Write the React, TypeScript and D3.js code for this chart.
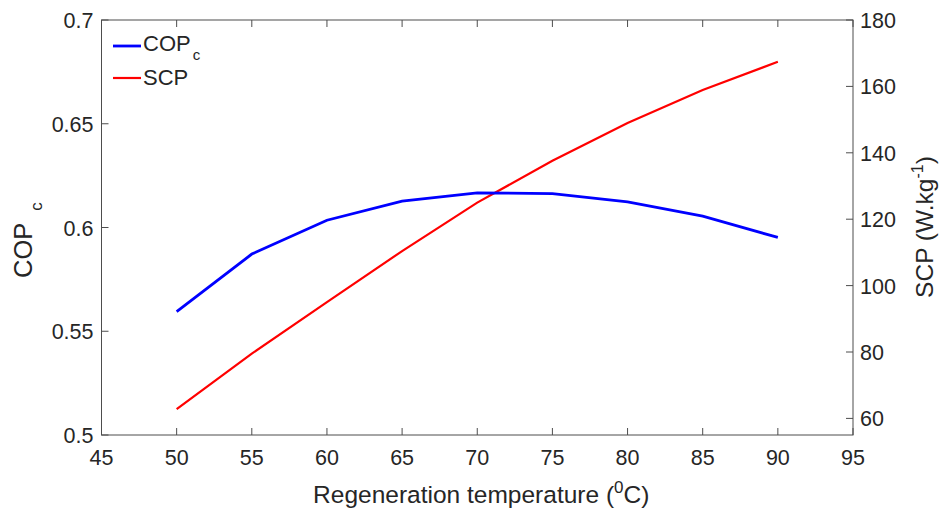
import React from "react";
import * as d3 from "d3";

const temps = [50, 55, 60, 65, 70, 75, 80, 85, 90];
const copValues = [0.5595, 0.5872, 0.6035, 0.6127, 0.6167, 0.6163, 0.6123, 0.6055, 0.5952];
const scpValues = [62.8, 79.5, 95.0, 110.4, 125.0, 137.6, 149.0, 158.9, 167.4];
const xTicks = [45, 50, 55, 60, 65, 70, 75, 80, 85, 90, 95];
const yLeftTicks = [0.5, 0.55, 0.6, 0.65, 0.7];
const yRightTicks = [60, 80, 100, 120, 140, 160, 180];

const W = 941, H = 510;
const L = 101.5, R = 853, T = 20, B = 435;
const FONT = "'Liberation Sans', Arial, sans-serif";
const AX = "#4d4d4d";
const TXT = "#262626";
const TICK_FS = 21.5;
const LABEL_FS = 24.5;

export default function App() {
  const x = d3.scaleLinear().domain([45, 95]).range([L, R]);
  const yL = d3.scaleLinear().domain([0.5, 0.7]).range([B, T]);
  const yR = d3.scaleLinear().domain([55, 180]).range([B, T]);
  const copLine = d3.line<number>().x((_, i) => x(temps[i])).y((d) => yL(d));
  const scpLine = d3.line<number>().x((_, i) => x(temps[i])).y((d) => yR(d));
  const tl = 7;
  return (
    <svg width={W} height={H} style={{ position: "absolute", left: 0, top: 0, background: "#fff" }} fontFamily={FONT}>
      <rect x={0} y={0} width={W} height={H} fill="#fff" />
      <rect x={L} y={T} width={R - L} height={B - T} fill="none" stroke={AX} strokeWidth={1} />
      {xTicks.map((t) => (
        <g key={"x" + t}>
          <line x1={x(t)} x2={x(t)} y1={B} y2={B - tl} stroke={AX} />
          <line x1={x(t)} x2={x(t)} y1={T} y2={T + tl} stroke={AX} />
          <text x={x(t)} y={B + 30} textAnchor="middle" fontSize={TICK_FS} fill={TXT}>{t}</text>
        </g>
      ))}
      {yLeftTicks.map((t) => (
        <g key={"l" + t}>
          <line x1={L} x2={L + tl} y1={yL(t)} y2={yL(t)} stroke={AX} />
          <text x={L - 8} y={yL(t) + 8} textAnchor="end" fontSize={TICK_FS} fill={TXT}>{String(t)}</text>
        </g>
      ))}
      {yRightTicks.map((t) => (
        <g key={"r" + t}>
          <line x1={R} x2={R - tl} y1={yR(t)} y2={yR(t)} stroke={AX} />
          <text x={R + 7} y={yR(t) + 8} textAnchor="start" fontSize={TICK_FS} fill={TXT}>{t}</text>
        </g>
      ))}
      <path d={scpLine(scpValues) || ""} fill="none" stroke="#ff0000" strokeWidth={2.2} />
      <path d={copLine(copValues) || ""} fill="none" stroke="#0000ff" strokeWidth={2.8} />
      {/* legend */}
      <line x1={113} x2={141} y1={46} y2={46} stroke="#0000ff" strokeWidth={2.8} />
      <text x={143} y={51} fontSize={22} fill={TXT}>COP<tspan fontSize={15} dy={9} dx={2}>c</tspan></text>
      <line x1={113} x2={141} y1={78} y2={78} stroke="#ff0000" strokeWidth={2.2} />
      <text x={143} y={85} fontSize={22} fill={TXT}>SCP</text>
      {/* axis labels */}
      <text x={(L + R) / 2 + 4} y={503} textAnchor="middle" fontSize={LABEL_FS} fill={TXT}>
        Regeneration temperature (<tspan fontSize={17} dy={-10}>0</tspan><tspan dy={10}>C)</tspan>
      </text>
      <text transform={`translate(32, 240) rotate(-90)`} textAnchor="middle" fontSize={LABEL_FS + 1} fill={TXT}>
        COP<tspan fontSize={17} dy={10} dx={12}>c</tspan>
      </text>
      <text transform={`translate(933, 227) rotate(-90)`} textAnchor="middle" fontSize={LABEL_FS} fill={TXT}>
        SCP (W.kg<tspan fontSize={16} dy={-10}>-1</tspan><tspan dy={10}>)</tspan>
      </text>
    </svg>
  );
}
